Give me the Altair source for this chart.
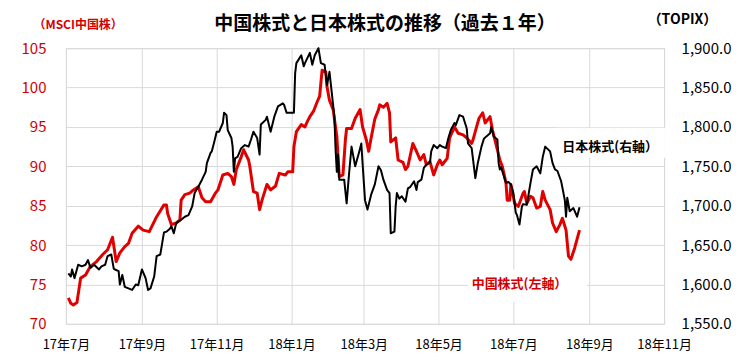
import altair as alt
import pandas as pd

FONT = "Noto Sans CJK JP"
RED = "#e00000"
RED_TEXT = "#d40000"
GRID = "#d9d9d9"

# MSCI China (left axis)
cn_dates = [
    "2017-07-03", "2017-07-05", "2017-07-07", "2017-07-10", "2017-07-13", "2017-07-17", "2017-07-21",
    "2017-07-26", "2017-07-31", "2017-08-04", "2017-08-08", "2017-08-11", "2017-08-14", "2017-08-18",
    "2017-08-21", "2017-08-24", "2017-08-29", "2017-09-02", "2017-09-07", "2017-09-13", "2017-09-19",
    "2017-09-21", "2017-09-22", "2017-09-25", "2017-09-29", "2017-10-02", "2017-10-03", "2017-10-06",
    "2017-10-10", "2017-10-13", "2017-10-17", "2017-10-20", "2017-10-23", "2017-10-27", "2017-10-31",
    "2017-11-02", "2017-11-06", "2017-11-10", "2017-11-13", "2017-11-15", "2017-11-17", "2017-11-21",
    "2017-11-23", "2017-11-27", "2017-11-28", "2017-12-01", "2017-12-04", "2017-12-06", "2017-12-08",
    "2017-12-12", "2017-12-15", "2017-12-19", "2017-12-22", "2017-12-27", "2017-12-29", "2018-01-02",
    "2018-01-03", "2018-01-05", "2018-01-09", "2018-01-12", "2018-01-14", "2018-01-16", "2018-01-19",
    "2018-01-22", "2018-01-24", "2018-01-25", "2018-01-26", "2018-01-29", "2018-01-30", "2018-02-01",
    "2018-02-04", "2018-02-07", "2018-02-08", "2018-02-09", "2018-02-12", "2018-02-14", "2018-02-15",
    "2018-02-19", "2018-02-22", "2018-02-26", "2018-02-28", "2018-03-03", "2018-03-05", "2018-03-07",
    "2018-03-10", "2018-03-13", "2018-03-14", "2018-03-17", "2018-03-20", "2018-03-22", "2018-03-23",
    "2018-03-27", "2018-03-29", "2018-04-02", "2018-04-04", "2018-04-06", "2018-04-10", "2018-04-13",
    "2018-04-16", "2018-04-19", "2018-04-21", "2018-04-24", "2018-04-27", "2018-04-30", "2018-05-02",
    "2018-05-04", "2018-05-08", "2018-05-10", "2018-05-14", "2018-05-17", "2018-05-21", "2018-05-24",
    "2018-05-28", "2018-05-29", "2018-06-01", "2018-06-03", "2018-06-06", "2018-06-08", "2018-06-12",
    "2018-06-14", "2018-06-18", "2018-06-20", "2018-06-22", "2018-06-25", "2018-06-26", "2018-06-28",
    "2018-06-29", "2018-07-02", "2018-07-05", "2018-07-09", "2018-07-10", "2018-07-12", "2018-07-15",
    "2018-07-17", "2018-07-20", "2018-07-23", "2018-07-25", "2018-07-27", "2018-07-31", "2018-08-02",
    "2018-08-05", "2018-08-08", "2018-08-10", "2018-08-13", "2018-08-15", "2018-08-17", "2018-08-20",
    "2018-08-24",
]
cn_values = [
    73.3, 72.6, 72.4, 72.7, 75.8, 76.2, 77.3,
    77.9, 78.8, 79.4, 81.0, 77.9, 79.0, 79.8,
    80.2, 81.5, 82.4, 81.9, 81.7, 83.6, 85.1,
    85.1, 84.0, 82.6, 82.8, 83.2, 85.7, 86.4,
    86.6, 87.0, 87.4, 86.0, 85.5, 85.5, 86.6,
    87.0, 88.9, 89.1, 88.7, 87.7, 89.6, 91.2,
    92.1, 90.8, 90.0, 86.8, 86.6, 84.5, 85.7,
    87.7, 87.0, 87.5, 89.1, 88.9, 89.3, 89.3,
    92.5, 94.4, 95.3, 95.0, 95.7, 96.3, 97.0,
    98.2, 98.9, 100.6, 102.2, 102.0, 100.1, 98.4,
    97.2, 93.8, 91.2, 88.7, 88.9, 93.4, 94.8,
    94.8, 96.1, 97.2, 95.0, 93.4, 91.9, 93.6,
    96.0, 97.2, 97.8, 97.5, 98.0, 96.8, 93.1,
    93.6, 90.8, 90.5, 89.6, 90.0, 92.9, 91.9,
    90.8, 91.5, 90.2, 90.6, 88.9, 90.2, 90.8,
    90.2, 91.0, 93.6, 95.0, 94.2, 94.0, 93.6,
    92.9, 93.3, 95.0, 96.1, 96.8, 95.5, 96.3,
    94.6, 92.1, 90.8, 90.0, 87.9, 85.7, 85.7,
    87.7, 85.3, 84.9, 86.6, 86.8, 85.3, 86.2,
    86.0, 84.7, 84.9, 86.8, 85.7, 84.5, 82.8,
    81.7, 82.6, 83.4, 81.9, 78.6, 78.2, 79.6,
    81.9,
]

# TOPIX (right axis)
jp_dates = [
    "2017-07-03", "2017-07-05", "2017-07-06", "2017-07-08", "2017-07-11", "2017-07-14", "2017-07-17",
    "2017-07-19", "2017-07-21", "2017-07-24", "2017-07-28", "2017-07-30", "2017-08-02", "2017-08-04",
    "2017-08-07", "2017-08-09", "2017-08-10", "2017-08-13", "2017-08-14", "2017-08-16", "2017-08-18",
    "2017-08-21", "2017-08-24", "2017-08-27", "2017-08-29", "2017-09-01", "2017-09-04", "2017-09-06",
    "2017-09-08", "2017-09-11", "2017-09-13", "2017-09-16", "2017-09-19", "2017-09-21", "2017-09-24",
    "2017-09-25", "2017-09-27", "2017-09-29", "2017-10-03", "2017-10-06", "2017-10-09", "2017-10-12",
    "2017-10-14", "2017-10-17", "2017-10-20", "2017-10-23", "2017-10-24", "2017-10-27", "2017-10-28",
    "2017-10-30", "2017-11-01", "2017-11-03", "2017-11-06", "2017-11-07", "2017-11-09", "2017-11-10",
    "2017-11-13", "2017-11-14", "2017-11-15", "2017-11-16", "2017-11-18", "2017-11-21", "2017-11-24",
    "2017-11-27", "2017-11-29", "2017-12-01", "2017-12-04", "2017-12-06", "2017-12-07", "2017-12-11",
    "2017-12-12", "2017-12-15", "2017-12-18", "2017-12-21", "2017-12-25", "2017-12-26", "2017-12-28",
    "2018-01-03", "2018-01-04", "2018-01-05", "2018-01-09", "2018-01-11", "2018-01-12", "2018-01-16",
    "2018-01-18", "2018-01-20", "2018-01-23", "2018-01-25", "2018-01-28", "2018-01-30", "2018-02-01",
    "2018-02-02", "2018-02-05", "2018-02-06", "2018-02-07", "2018-02-08", "2018-02-09", "2018-02-13",
    "2018-02-15", "2018-02-17", "2018-02-19", "2018-02-22", "2018-02-25", "2018-02-27", "2018-02-28",
    "2018-03-02", "2018-03-04", "2018-03-07", "2018-03-10", "2018-03-13", "2018-03-15", "2018-03-17",
    "2018-03-20", "2018-03-22", "2018-03-23", "2018-03-26", "2018-03-27", "2018-03-28", "2018-03-30",
    "2018-04-01", "2018-04-04", "2018-04-06", "2018-04-08", "2018-04-11", "2018-04-13", "2018-04-14",
    "2018-04-17", "2018-04-19", "2018-04-21", "2018-04-24", "2018-04-25", "2018-04-27", "2018-04-30",
    "2018-05-02", "2018-05-04", "2018-05-07", "2018-05-09", "2018-05-11", "2018-05-14", "2018-05-15",
    "2018-05-18", "2018-05-21", "2018-05-24", "2018-05-25", "2018-05-28", "2018-05-31", "2018-06-02",
    "2018-06-05", "2018-06-07", "2018-06-09", "2018-06-12", "2018-06-13", "2018-06-15", "2018-06-18",
    "2018-06-19", "2018-06-20", "2018-06-21", "2018-06-25", "2018-06-27", "2018-06-29", "2018-07-01",
    "2018-07-03", "2018-07-04", "2018-07-06", "2018-07-08", "2018-07-09", "2018-07-12", "2018-07-15",
    "2018-07-17", "2018-07-20", "2018-07-23", "2018-07-25", "2018-07-27", "2018-07-31", "2018-08-02",
    "2018-08-04", "2018-08-06", "2018-08-09", "2018-08-12", "2018-08-13", "2018-08-14", "2018-08-16",
    "2018-08-19", "2018-08-22", "2018-08-24",
]
jp_values = [
    1614, 1610, 1619, 1608, 1625, 1623, 1625,
    1631, 1621, 1625, 1619, 1623, 1625, 1636,
    1638, 1620, 1619, 1617, 1600, 1612, 1597,
    1595, 1593, 1600, 1599, 1619, 1608, 1593,
    1595, 1610, 1636, 1638, 1666, 1667, 1671,
    1674, 1665, 1678, 1682, 1686, 1688, 1699,
    1716, 1724, 1733, 1743, 1754, 1767, 1769,
    1781, 1794, 1794, 1805, 1818, 1815, 1796,
    1786, 1775, 1743, 1760, 1762, 1773, 1777,
    1775, 1784, 1794, 1786, 1765, 1803, 1809,
    1813, 1794, 1813, 1826, 1830, 1828, 1818,
    1818, 1868, 1881, 1891, 1877, 1881, 1894,
    1879, 1891, 1900, 1881, 1879, 1853, 1870,
    1856, 1813, 1771, 1743, 1765, 1733, 1733,
    1703, 1741, 1775, 1750, 1767, 1779, 1754,
    1707, 1695, 1714, 1727, 1750, 1745, 1733,
    1720, 1716, 1665, 1667, 1699, 1716, 1709,
    1712, 1705, 1722, 1724, 1731, 1720, 1730,
    1733, 1748, 1752, 1755, 1769, 1777, 1773,
    1777, 1775, 1773, 1786, 1796, 1805, 1802,
    1815, 1813, 1798, 1779, 1773, 1735, 1754,
    1775, 1785, 1788, 1792, 1800, 1788, 1784,
    1754, 1746, 1749, 1729, 1730, 1727, 1716,
    1691, 1688, 1676, 1699, 1702, 1701, 1729,
    1746, 1750, 1741, 1762, 1775, 1769, 1754,
    1746, 1744, 1731, 1707, 1686, 1710, 1693,
    1697, 1686, 1698,
]

x_ticks = ["2017-07-01", "2017-09-01", "2017-11-01", "2018-01-01", "2018-03-01",
           "2018-05-01", "2018-07-01", "2018-09-01", "2018-11-01"]
x_domain = ["2017-07-01", "2018-11-01"]
left_ticks = [70, 75, 80, 85, 90, 95, 100, 105]
left_domain = [70, 105]
right_ticks = [1550, 1600, 1650, 1700, 1750, 1800, 1850, 1900]
right_domain = [1550, 1900]

chart_title = "中国株式と日本株式の推移（過去１年）"
left_title = "（MSCI中国株）"
right_title = "（TOPIX）"

# series labels (text, anchor date, anchor value) and their white boxes
cn_label = ["中国株式(左軸）"]
cn_label_date = ["2018-05-28"]
cn_label_value = [75.05]
cn_box_dates = ["2018-05-25", "2018-08-30"]
cn_box_values = [72.8, 76.9]
jp_label = ["日本株式(右軸）"]
jp_label_date = ["2018-08-10"]
jp_label_value = [1774]
jp_box_dates = ["2018-08-04", "2018-11-02"]
jp_box_values = [1761, 1799]


def dt(s):
    y, m, d = (int(p) for p in s.split("-"))
    return alt.DateTime(year=y, month=m, date=d, utc=True)


x_scale = alt.Scale(type="utc", domain=[dt(s) for s in x_domain])
x_axis = alt.Axis(
    values=[dt(s) for s in x_ticks],
    labelExpr="utcFormat(datum.value, '%y年%-m月')",
    grid=True, gridColor=GRID, gridWidth=1, domain=False, ticks=False,
    labelFont=FONT, labelFontSize=13, labelColor="#000000", labelPadding=15,
    labelOverlap=False, labelFlush=False, title=None,
)
l_scale = alt.Scale(domain=left_domain, nice=False, zero=False)
l_axis = alt.Axis(
    orient="left", values=left_ticks, grid=True, gridColor=GRID, gridWidth=1,
    domain=False, ticks=False, labelFont=FONT, labelFontSize=15, labelColor=RED_TEXT,
    labelPadding=20, title=left_title, titleAngle=0, titleAlign="left",
    titleBaseline="middle", titleX=-33, titleY=-24, titleFont=FONT, titleFontSize=12,
    titleFontWeight="bold", titleColor=RED_TEXT,
)
r_scale = alt.Scale(domain=right_domain, nice=False, zero=False)
r_axis = alt.Axis(
    orient="right", values=right_ticks, format=",.1f", grid=False,
    domain=False, ticks=False, labelFont=FONT, labelFontSize=15, labelColor="#000000",
    labelPadding=17, title=right_title, titleAngle=0, titleAlign="left",
    titleBaseline="middle", titleX=-17, titleY=-29, titleFont=FONT, titleFontSize=14,
    titleFontWeight="bold", titleColor="#000000",
)

X = alt.X("date:T", scale=x_scale, axis=x_axis)
YL = alt.Y("value:Q", scale=l_scale, axis=l_axis)
YR = alt.Y("value:Q", scale=r_scale, axis=r_axis)

cn_df = pd.DataFrame({"date": cn_dates, "value": cn_values})
jp_df = pd.DataFrame({"date": jp_dates, "value": jp_values})
cn_lab_df = pd.DataFrame({"date": cn_label_date, "value": cn_label_value, "label": cn_label})
jp_lab_df = pd.DataFrame({"date": jp_label_date, "value": jp_label_value, "label": jp_label})
cn_box_df = pd.DataFrame({"date": [cn_box_dates[0]], "date2": [cn_box_dates[1]],
                          "value": [cn_box_values[0]], "value2": [cn_box_values[1]]})
jp_box_df = pd.DataFrame({"date": [jp_box_dates[0]], "date2": [jp_box_dates[1]],
                          "value": [jp_box_values[0]], "value2": [jp_box_values[1]]})

cn_line = alt.Chart(cn_df).mark_line(color=RED, strokeWidth=3, strokeJoin="round").encode(x=X, y=YL)
cn_box = alt.Chart(cn_box_df).mark_rect(color="white").encode(x=X, x2="date2:T", y=YL, y2="value2:Q")
cn_text = alt.Chart(cn_lab_df).mark_text(
    align="left", baseline="middle", font=FONT, fontSize=13, fontWeight="bold", color=RED_TEXT
).encode(x=X, y=YL, text="label:N")

jp_line = alt.Chart(jp_df).mark_line(color="#000000", strokeWidth=2, strokeJoin="round").encode(x=X, y=YR)
jp_box = alt.Chart(jp_box_df).mark_rect(color="white").encode(x=X, x2="date2:T", y=YR, y2="value2:Q")
jp_text = alt.Chart(jp_lab_df).mark_text(
    align="left", baseline="middle", font=FONT, fontSize=13, fontWeight="bold", color="#000000"
).encode(x=X, y=YR, text="label:N")

left = alt.layer(cn_line, cn_box, cn_text)
right = alt.layer(jp_line, jp_box, jp_text)

chart = (
    alt.layer(left, right)
    .resolve_scale(y="independent")
    .properties(
        width=599, height=276,
        title=alt.TitleParams(
            text=chart_title, font=FONT, fontSize=19, fontWeight="bold", color="#000000",
            anchor="middle", offset=0, dx=20, dy=22,
        ),
        autosize=alt.AutoSizeParams(type="none"),
        padding={"left": 58, "top": 40, "right": 80, "bottom": 36},
    )
    .configure_view(stroke=None)
    .configure(background="white")
)

chart.save("out.html", embed_options={"renderer": "svg", "actions": False})
